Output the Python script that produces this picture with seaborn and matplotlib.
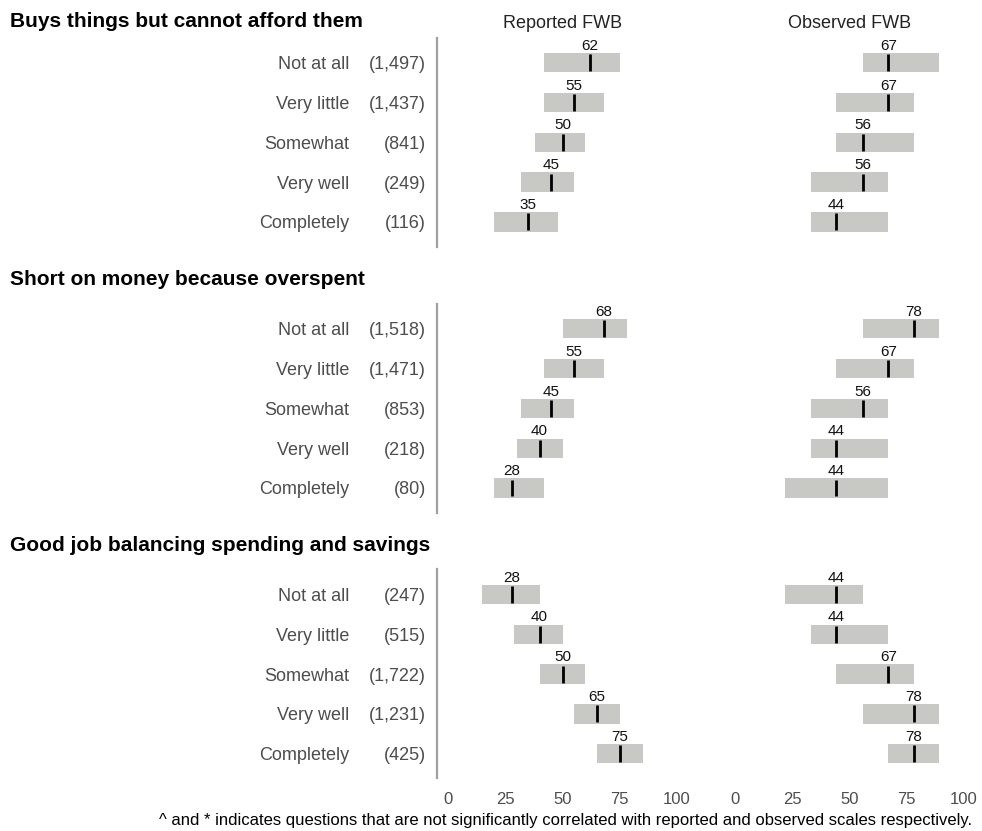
import matplotlib
matplotlib.use("Agg")
import matplotlib.pyplot as plt
import matplotlib.transforms as mtransforms
import numpy as np
import pandas as pd
import seaborn as sns

# ---------------- data ----------------
sections = ["Buys things but cannot afford them",
            "Short on money because overspent",
            "Good job balancing spending and savings"]
categories = ["Not at all", "Very little", "Somewhat", "Very well", "Completely"]
counts = [
    ["(1,497)", "(1,437)", "(841)", "(249)", "(116)"],
    ["(1,518)", "(1,471)", "(853)", "(218)", "(80)"],
    ["(247)", "(515)", "(1,722)", "(1,231)", "(425)"],
]
# Reported FWB: lower quartile, median, upper quartile
rep_q1 = [[42, 42, 38, 32, 20], [50, 42, 32, 30, 20], [15, 29, 40, 55, 65]]
rep_med = [[62, 55, 50, 45, 35], [68, 55, 45, 40, 28], [28, 40, 50, 65, 75]]
rep_q3 = [[75, 68, 60, 55, 48], [78, 68, 55, 50, 42], [40, 50, 60, 75, 85]]
# Observed FWB
obs_q1 = [[56, 44, 44, 33, 33], [56, 44, 33, 33, 22], [22, 33, 44, 56, 67]]
obs_med = [[67, 67, 56, 56, 44], [78, 67, 56, 44, 44], [44, 44, 67, 78, 78]]
obs_q3 = [[89, 78, 78, 67, 67], [89, 78, 67, 67, 67], [56, 67, 78, 89, 89]]
panel_titles = ["Reported FWB", "Observed FWB"]
xticks = [0, 25, 50, 75, 100]
footnote = ("^ and * indicates questions that are not significantly correlated "
            "with reported and observed scales respectively.")

# ---------------- style ----------------
sns.set_theme(style="white")
plt.rcParams["font.family"] = ["Liberation Sans", "DejaVu Sans"]

W, H = 982, 831
fig = plt.figure(figsize=(W / 100, H / 100), dpi=100)

BAR_COLOR = "#c8c8c4"
LABEL_COLOR = "#4d4d4d"
row_step = 39.8
row0_px = [62.7, 328.8, 594.5]
ylim_top, ylim_bot = -0.63, 4.62
ax_h_px = (ylim_bot - ylim_top) * row_step
bar_h = 0.485

col_axes = [(436.5, 252.0), (723.6, 251.8)]  # left px, width px (xlim -5..105)

for s, title in enumerate(sections):
    top_px = row0_px[s] + ylim_top * row_step
    bottom_frac = 1 - (top_px + ax_h_px) / H
    h_frac = ax_h_px / H
    data_sets = [(rep_q1[s], rep_med[s], rep_q3[s]), (obs_q1[s], obs_med[s], obs_q3[s])]
    axes = []
    for c, (lpx, wpx) in enumerate(col_axes):
        ax = fig.add_axes([lpx / W, bottom_frac, wpx / W, h_frac])
        axes.append(ax)
        q1, med, q3 = data_sets[c]
        df = pd.DataFrame({"row": np.arange(len(categories)), "q1": q1,
                           "med": med, "q3": q3})
        ax.barh(df["row"], df["q3"] - df["q1"], left=df["q1"], height=bar_h,
                color=BAR_COLOR, edgecolor="none", zorder=2)
        ax.vlines(df["med"], df["row"] - bar_h / 2 + 0.03, df["row"] + bar_h / 2 - 0.03,
                  color="black", linewidth=2.0, zorder=3)
        for r, m in zip(df["row"], df["med"]):
            ax.text(m, r - bar_h / 2 - 0.005, f"{m}", ha="center", va="bottom",
                    fontsize=11, color="#111111", zorder=4)
        ax.set_xlim(-5, 105)
        ax.set_ylim(ylim_bot, ylim_top)
        ax.set_yticks([])
        for sp in ax.spines.values():
            sp.set_visible(False)
        if c == 0:
            ax.spines["left"].set_visible(True)
            ax.spines["left"].set_color("#a0a0a0")
            ax.spines["left"].set_linewidth(1.6)
        if s == len(sections) - 1:
            ax.set_xticks(xticks)
            ax.set_xticklabels([str(t) for t in xticks], fontsize=12, color=LABEL_COLOR)
            ax.tick_params(axis="x", length=0, pad=10)
        else:
            ax.set_xticks([])
        ax.set_facecolor("none")
        ax.grid(False)

    # category labels and counts
    trans = mtransforms.blended_transform_factory(fig.transFigure, axes[0].transData)
    for r, (cat, cnt) in enumerate(zip(categories, counts[s])):
        fig.text(349 / W, r, cat, transform=trans, ha="right", va="center_baseline",
                 fontsize=13, color=LABEL_COLOR)
        fig.text(426 / W, r, cnt, transform=trans, ha="right", va="center_baseline",
                 fontsize=13, color=LABEL_COLOR)

    # section title
    title_base_px = [27, 285, 551][s]
    fig.text(10 / W, 1 - title_base_px / H, title, ha="left", va="baseline",
             fontsize=15, fontweight="bold", color="black")

    if s == 0:
        for c, ax in enumerate(axes):
            ttrans = mtransforms.blended_transform_factory(ax.transData, fig.transFigure)
            fig.text(50, 1 - 28 / H, panel_titles[c], transform=ttrans, ha="center",
                     va="baseline", fontsize=13, color="#222222")

fig.text(972 / W, 1 - 825 / H, footnote, ha="right", va="baseline", fontsize=12.0,
         color="black")

fig.savefig("out.png", dpi=100, facecolor="white")
